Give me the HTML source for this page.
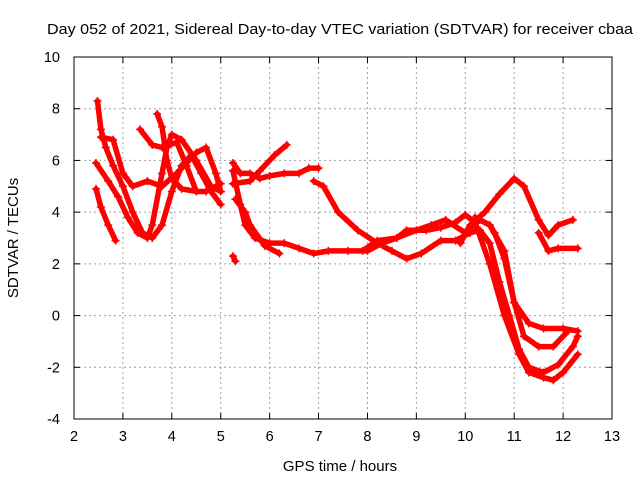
<!DOCTYPE html>
<html><head><meta charset="utf-8"><style>
body{margin:0;background:#fff;}
svg{display:block;font-family:"Liberation Sans",sans-serif;}
</style></head><body>
<svg id="chart" width="640" height="480" viewBox="0 0 640 480">
<rect width="640" height="480" fill="#fff"/>
<text x="340" y="34" font-size="15" text-anchor="middle" textLength="586" lengthAdjust="spacingAndGlyphs">Day 052 of 2021, Sidereal Day-to-day VTEC variation (SDTVAR) for receiver cbaa</text>
<text x="340" y="471" font-size="15" text-anchor="middle">GPS time / hours</text>
<text transform="translate(18,238) rotate(-90)" font-size="15" text-anchor="middle">SDTVAR / TECUs</text>
<g id="grid"></g><g id="ticks"></g><g id="series"></g>
<rect x="74" y="57" width="538" height="362" fill="none" stroke="#000" stroke-width="1"/>
</svg>
<script>
const xTicks=[2,3,4,5,6,7,8,9,10,11,12,13];
const yTicks=[-4,-2,0,2,4,6,8,10];
const t1=[[2.48,8.3],[2.55,7.2],[2.65,6.5],[2.8,5.8],[3.0,5.0],[3.2,4.0],[3.4,3.2],[3.6,3.0],[3.8,3.5],[4.0,4.8],[4.2,5.8],[4.4,6.2],[4.6,5.5],[4.8,4.8],[5.0,4.3]];
const t2=[[2.45,5.9],[2.7,5.2],[2.9,4.6],[3.1,3.8],[3.3,3.2],[3.5,3.0],[3.6,3.5],[3.8,5.5],[3.9,6.5],[4.0,7.0],[4.2,6.8],[4.5,6.0],[4.8,5.0],[5.0,4.8]];
const t3=[[2.45,4.9],[2.55,4.2],[2.7,3.5],[2.85,2.9]];
const t4=[[2.55,6.9],[2.8,6.8],[3.0,5.5],[3.2,5.0],[3.5,5.2],[3.8,5.0],[4.1,5.5],[4.5,6.3],[4.7,6.5],[4.9,5.5],[5.0,4.8]];
const t5=[[3.35,7.2],[3.6,6.6],[3.8,6.5],[4.1,6.7],[4.3,5.8],[4.5,4.8],[4.7,4.8],[5.0,5.1]];
const t6=[[3.7,7.8],[3.8,7.3],[3.9,6.0],[4.0,5.3],[4.2,4.9],[4.5,4.8]];
const t7=[[5.25,5.9],[5.4,5.5],[5.6,5.5],[5.8,5.3],[6.0,5.4],[6.3,5.5],[6.6,5.5],[6.8,5.7],[7.0,5.7]];
const t8=[[5.25,5.1],[5.6,5.2],[5.8,5.6],[6.1,6.2],[6.35,6.6]];
const t9=[[5.25,5.6],[5.4,4.3],[5.5,3.5],[5.7,3.0],[6.0,2.8],[6.3,2.8],[6.6,2.6],[6.9,2.4],[7.2,2.5],[7.6,2.5],[8.0,2.5],[8.3,2.8],[8.6,3.0],[9.0,3.3],[9.3,3.5],[9.6,3.7],[10.0,3.2],[10.3,3.7],[10.5,3.5],[10.6,3.2],[10.8,2.2],[11.0,0.5],[11.2,-0.8],[11.5,-1.2],[11.8,-1.2],[12.1,-0.6]];
const t10=[[5.3,4.5],[5.5,4.0],[5.6,3.5],[5.9,2.7],[6.2,2.4]];
const t11=[[6.9,5.2],[7.1,5.0],[7.4,4.0],[7.8,3.3],[8.2,2.8],[8.5,2.5],[8.8,2.2],[9.1,2.4],[9.5,2.9],[9.8,2.9],[10.1,3.2],[10.3,3.3],[10.5,2.8],[10.7,1.3],[10.9,0],[11.1,-1.3],[11.3,-2.0],[11.6,-2.2],[11.9,-1.9],[12.2,-1.2],[12.3,-0.8]];
const t12=[[7.9,2.5],[8.2,2.9],[8.6,3.0],[8.8,3.3],[9.2,3.3],[9.5,3.4],[9.8,3.6],[10.0,3.9],[10.2,3.6],[10.5,2.0],[10.8,0],[11.1,-1.5],[11.3,-2.2],[11.6,-2.4],[11.8,-2.5],[12.0,-2.2],[12.3,-1.5]];
const t13=[[9.9,2.8],[10.1,3.5],[10.4,4.0],[10.7,4.7],[11.0,5.3],[11.2,5.0],[11.5,3.7],[11.7,3.1],[11.9,3.5],[12.2,3.7]];
const t14=[[10.2,3.8],[10.5,3.5],[10.8,2.5],[11.0,0.5],[11.3,-0.3],[11.6,-0.5],[12.0,-0.5],[12.3,-0.6]];
const t15=[[11.5,3.2],[11.7,2.5],[11.9,2.6],[12.3,2.6]];
const t16=[[5.25,2.3],[5.3,2.1]];
const tracks=[t1,t2,t3,t4,t5,t6,t7,t8,t9,t10,t11,t12,t13,t14,t15,t16];

const L=74,R=612,T=57,B=419;
const xs=v=>L+(v-2)/11*(R-L);
const ys=v=>B-(v+4)/14*(B-T);
const NS="http://www.w3.org/2000/svg";
const grid=document.getElementById('grid'),ticks=document.getElementById('ticks'),ser=document.getElementById('series');
function mk(tag,a,p){const e=document.createElementNS(NS,tag);for(const k in a)e.setAttribute(k,a[k]);p.appendChild(e);return e;}
xTicks.forEach(v=>{
  const x=xs(v);
  if(v>2&&v<13){const g=mk('line',{x1:x,x2:x,y1:T,y2:B,stroke:'#a0a0a0','stroke-dasharray':'2,3'},grid);
  
  }
  const t=mk('text',{x:x,y:B+22,'font-size':14.5,'text-anchor':'middle'},ticks);
  
  
  t.textContent=v;
  mk('line',{x1:x,x2:x,y1:B,y2:B-6,stroke:'#000'},ticks);
  mk('line',{x1:x,x2:x,y1:T,y2:T+6,stroke:'#000'},ticks);
});
yTicks.forEach(v=>{
  const y=ys(v);
  if(v>-4&&v<10){const g=mk('line',{x1:L,x2:R,y1:y,y2:y,stroke:'#a0a0a0','stroke-dasharray':'2,3'},grid);
  
  }
  const t=mk('text',{x:L-14,y:y+5,'font-size':14.5,'text-anchor':'end'},ticks);
  
  
  t.textContent=v;
  mk('line',{x1:L,x2:L+6,y1:y,y2:y,stroke:'#000'},ticks);
  mk('line',{x1:R,x2:R-6,y1:y,y2:y,stroke:'#000'},ticks);
});
tracks.forEach((tr,i)=>{
  const p=mk('polyline',{points:tr.map(d=>xs(d[0])+','+ys(d[1])).join(' '),fill:'none',stroke:'#f00','stroke-width':5.5,'stroke-linejoin':'round','stroke-linecap':'round'},ser);
  
  
  tr.forEach(d=>{
    const x=xs(d[0]),y=ys(d[1]);
    const m=mk('path',{d:`M${x-4},${y}H${x+4}M${x},${y-4}V${y+4}`,stroke:'#f00','stroke-width':1.5},ser);
    
    
  });
});
</script>
</body></html>
